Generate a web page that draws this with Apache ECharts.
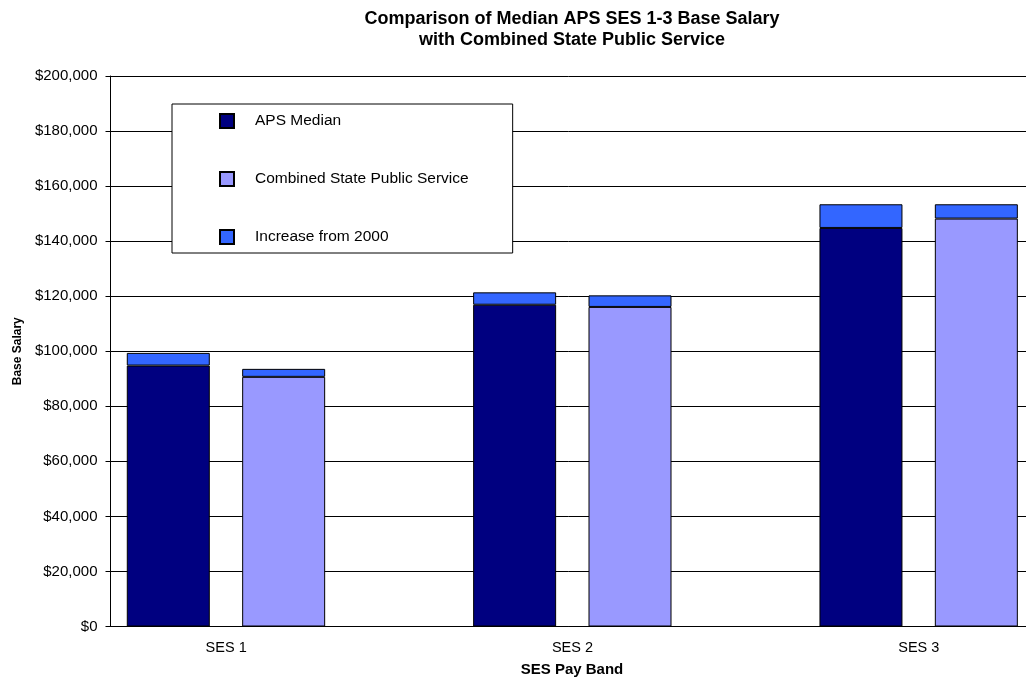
<!DOCTYPE html>
<html>
<head>
<meta charset="utf-8">
<script src="https://cdn.jsdelivr.net/npm/echarts@6/dist/echarts.min.js"></script>
<style>
  html, body { margin: 0; padding: 0; background: #fff; }
  #chart { width: 1026px; height: 682px; }
</style>
</head>
<body>
<div id="chart"></div>
<script>
// SES pay bands
const categories = ['SES 1', 'SES 2', 'SES 3'];
// APS median base salary and the rise since 2000
const apsMedian = [94800, 116900, 144800];
const apsIncrease = [4600, 4500, 8600];
// Combined state public service base salary and the rise since 2000
const cspsMedian = [90700, 116100, 148200];
const cspsIncrease = [2900, 4200, 5200];
// y-axis range
const yMin = 0, yMax = 200000, yStep = 20000;

const FONT = '"Liberation Sans", Arial, sans-serif';
const NAVY = '#000080', LILAC = '#9999FF', BLUE = '#3366FF';
const barStyle = (c) => ({ color: c, borderColor: '#000', borderWidth: 1 });

const chart = echarts.init(document.getElementById('chart'), null, { renderer: 'canvas' });
chart.setOption({
  animation: false,
  backgroundColor: '#fff',
  title: {
    text: 'Comparison of Median APS SES 1-3 Base Salary\nwith Combined State Public Service',
    left: 567, top: 4, textAlign: 'center',
    textStyle: { fontFamily: FONT, fontSize: 18, fontWeight: 'bold', color: '#000', lineHeight: 21 }
  },
  legend: {
    orient: 'vertical',
    left: 172, top: 104,
    padding: [9, 44, 8, 47],
    icon: 'rect',
    itemWidth: 14, itemHeight: 14, itemGap: 42,
    backgroundColor: '#fff', borderColor: '#000', borderWidth: 1,
    data: ['APS Median', 'Combined State Public Service', 'Increase from 2000'],
    textStyle: { fontFamily: FONT, fontSize: 15.5, color: '#000', padding: [0, 0, 0, 16] }
  },
  // the plot runs on past the right edge of the page; the third band's
  // trailing empty slot falls outside the visible area
  grid: { left: 110.5, top: 76, width: 1039, height: 550.5, outerBoundsMode: 'none' },
  xAxis: {
    type: 'category',
    data: categories,
    name: 'SES Pay Band',
    nameLocation: 'middle',
    nameGap: 36,
    nameTextStyle: { fontFamily: FONT, fontSize: 15, fontWeight: 'bold', color: '#000', padding: [0, 116, 0, 0] },
    axisLine: { lineStyle: { color: '#000', width: 1 } },
    axisTick: { show: false },
    // labels sit under the pair of bars, left of the band centre
    axisLabel: { fontFamily: FONT, fontSize: 14.5, color: '#000', margin: 14, padding: [0, 115, 0, 0] }
  },
  yAxis: {
    type: 'value',
    min: yMin, max: yMax, interval: yStep,
    name: 'Base Salary',
    nameLocation: 'middle',
    nameGap: 87,
    nameTextStyle: { fontFamily: FONT, fontSize: 12, fontWeight: 'bold', color: '#000' },
    axisLine: { show: true, lineStyle: { color: '#000', width: 1 } },
    axisTick: { show: true, length: 5, lineStyle: { color: '#000' } },
    splitLine: { lineStyle: { color: '#000', width: 1 } },
    axisLabel: {
      fontFamily: FONT, fontSize: 15, color: '#000', margin: 13,
      formatter: (v) => '$' + v.toLocaleString('en-US')
    }
  },
  series: [
    { name: 'APS Median', type: 'bar', stack: 'aps', data: apsMedian,
      barWidth: 83, barGap: '39%', itemStyle: barStyle(NAVY) },
    { name: 'Increase from 2000', type: 'bar', stack: 'aps', data: apsIncrease,
      barWidth: 83, barGap: '39%', itemStyle: barStyle(BLUE) },
    { name: 'Combined State Public Service', type: 'bar', stack: 'csps', data: cspsMedian,
      barWidth: 83, barGap: '39%', itemStyle: barStyle(LILAC) },
    { name: 'Increase from 2000', type: 'bar', stack: 'csps', data: cspsIncrease,
      barWidth: 83, barGap: '39%', itemStyle: barStyle(BLUE) },
    // empty slot that keeps the space after each pay band
    { name: 'spacer', type: 'bar', stack: 'spacer', data: [],
      barWidth: 83, barGap: '39%', silent: true }
  ]
});
</script>
</body>
</html>
